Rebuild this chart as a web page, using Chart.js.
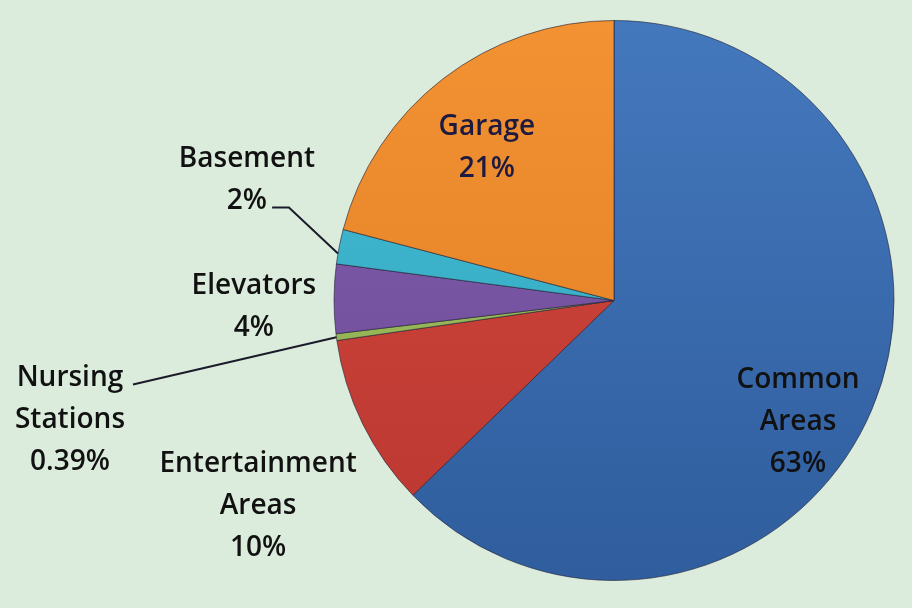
<!DOCTYPE html>
<html>
<head>
<meta charset="utf-8">
<script src="https://cdn.jsdelivr.net/npm/chart.js@4.4.1/dist/chart.umd.min.js"></script>
<style>
  html, body { margin: 0; padding: 0; background: #dcecdc; }
  #wrap { width: 912px; height: 608px; position: relative; }
</style>
</head>
<body>
<div id="wrap"><canvas id="c" width="912" height="608"></canvas></div>
<script>
// ---- data ----
const categories = ["Common Areas", "Entertainment Areas", "Nursing Stations", "Elevators", "Basement", "Garage"];
const values = [63, 10, 0.39, 4, 2, 21];
const labelLines = [
  ["Common", "Areas", "63%"],
  ["Entertainment", "Areas", "10%"],
  ["Nursing", "Stations", "0.39%"],
  ["Elevators", "4%"],
  ["Basement", "2%"],
  ["Garage", "21%"]
];

// ---- styles / placement (in units of the pie radius, relative to pie centre) ----
const sliceTop = ["#4478bd", "#d44a40", "#a4c463", "#8260ae", "#45bcd4", "#f29233"];
const sliceBottom = ["#2f5d9d", "#b9362f", "#8aa94c", "#6c4896", "#30a3bd", "#e07d22"];
const labelColors = ["#111111", "#111111", "#111111", "#111111", "#111111", "#1c1a40"];
const labelPlace = [
  [0.657, 0.433], [-1.271, 0.735], [-1.943, 0.426],
  [-1.286, 0.0225], [-1.311, -0.431], [-0.454, -0.545]
];
// leader lines: start point (radius units) and optional elbow; end at slice edge
const leaders = {
  2: { pts: [[-1.718, 0.300]], frac: 0.5 },
  4: { pts: [[-1.221, -0.332], [-1.161, -0.332]], frac: 0.3 }
};
const LINE_H = 42;
const FONT = "600 28px 'Open Sans', sans-serif";

const labelPlugin = {
  id: 'pieLabels',
  afterDatasetsDraw(chart) {
    const ctx = chart.ctx;
    const meta = chart.getDatasetMeta(0);
    ctx.save();
    meta.data.forEach((arc, i) => {
      const cx = arc.x, cy = arc.y, R = arc.outerRadius;
      if (leaders[i]) {
        const L = leaders[i];
        const a = arc.startAngle + (arc.endAngle - arc.startAngle) * L.frac;
        ctx.beginPath();
        ctx.strokeStyle = "#1a1a2a";
        ctx.lineWidth = 2;
        L.pts.forEach((p, k) => {
          const x = cx + p[0] * R, y = cy + p[1] * R;
          if (k === 0) ctx.moveTo(x, y); else ctx.lineTo(x, y);
        });
        ctx.lineTo(cx + Math.cos(a) * R, cy + Math.sin(a) * R);
        ctx.stroke();
      }
      const lines = labelLines[i];
      const bx = cx + labelPlace[i][0] * R;
      const by = cy + labelPlace[i][1] * R;
      ctx.font = FONT;
      ctx.fillStyle = labelColors[i];
      ctx.textAlign = "center";
      ctx.textBaseline = "middle";
      const y0 = by - (lines.length - 1) * LINE_H / 2;
      lines.forEach((t, k) => ctx.fillText(t, bx, y0 + k * LINE_H));
    });
    ctx.restore();
  }
};

function sliceFill(c) {
  const area = c.chart.chartArea;
  if (!area) return sliceTop[c.dataIndex];
  const g = c.chart.ctx.createLinearGradient(0, area.top, 0, area.bottom);
  g.addColorStop(0, sliceTop[c.dataIndex]);
  g.addColorStop(1, sliceBottom[c.dataIndex]);
  return g;
}

new Chart(document.getElementById('c'), {
  type: 'pie',
  data: {
    labels: categories,
    datasets: [{
      data: values,
      backgroundColor: sliceFill,
      borderColor: "rgba(30,30,50,0.6)",
      borderWidth: 1
    }]
  },
  options: {
    responsive: false,
    animation: false,
    events: [],
    layout: { padding: { left: 333, right: 17, top: 20, bottom: 27 } },
    plugins: { legend: { display: false }, tooltip: { enabled: false } }
  },
  plugins: [labelPlugin]
});
</script>
</body>
</html>
